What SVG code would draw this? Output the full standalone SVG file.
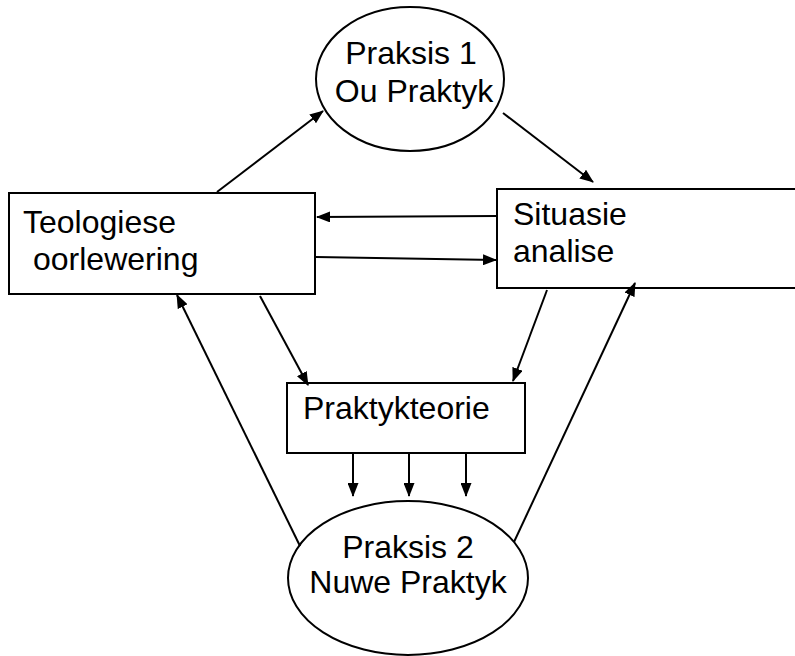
<svg xmlns="http://www.w3.org/2000/svg" width="795" height="656" viewBox="0 0 795 656">
<defs>
<marker id="ah" viewBox="0 0 14 11" refX="13" refY="5.5" markerWidth="14" markerHeight="11" markerUnits="userSpaceOnUse" orient="auto">
<path d="M0,0 L14,5.5 L0,11 Z" fill="#000"/>
</marker>
</defs>
<style>
.shape{fill:#fff;stroke:#000;stroke-width:2}
.t{font-family:"Liberation Sans",Arial,sans-serif;font-size:32px;fill:#000}
.c{text-anchor:middle}
.conn line{stroke:#000;stroke-width:2;marker-end:url(#ah)}
</style>
<rect width="795" height="656" fill="#fff"/>
<g id="praksis1">
<ellipse class="shape" cx="410" cy="79" rx="94" ry="72"/>
<text class="t c" x="411" y="64">Praksis 1</text>
<text class="t c" x="414" y="102">Ou Praktyk</text>
</g>
<g id="teologiese">
<rect class="shape" x="9" y="193" width="306" height="101"/>
<text class="t" x="23" y="233">Teologiese</text>
<text class="t" x="33" y="270">oorlewering</text>
</g>
<g id="situasie">
<rect class="shape" x="497" y="189" width="310" height="99"/>
<text class="t" x="513" y="225">Situasie</text>
<text class="t" x="513" y="262">analise</text>
</g>
<g id="praktykteorie">
<rect class="shape" x="287" y="383" width="238" height="70"/>
<text class="t" x="303" y="419">Praktykteorie</text>
</g>
<g id="praksis2">
<ellipse class="shape" cx="408" cy="578" rx="120" ry="77"/>
<text class="t c" x="408" y="558">Praksis 2</text>
<text class="t c" x="408" y="593">Nuwe Praktyk</text>
</g>
<g class="conn" id="connectors">
<line x1="217" y1="192" x2="323" y2="111"/>
<line x1="503" y1="113" x2="593" y2="182"/>
<line x1="497" y1="216" x2="317" y2="217"/>
<line x1="316" y1="257" x2="496" y2="260"/>
<line x1="260" y1="296" x2="308" y2="385"/>
<line x1="547" y1="290" x2="513" y2="381"/>
<line x1="300" y1="546" x2="177" y2="295"/>
<line x1="514" y1="542" x2="635" y2="283"/>
<line x1="353" y1="453" x2="353" y2="496"/>
<line x1="409" y1="453" x2="409" y2="496"/>
<line x1="466" y1="453" x2="466" y2="496"/>
</g>
</svg>
